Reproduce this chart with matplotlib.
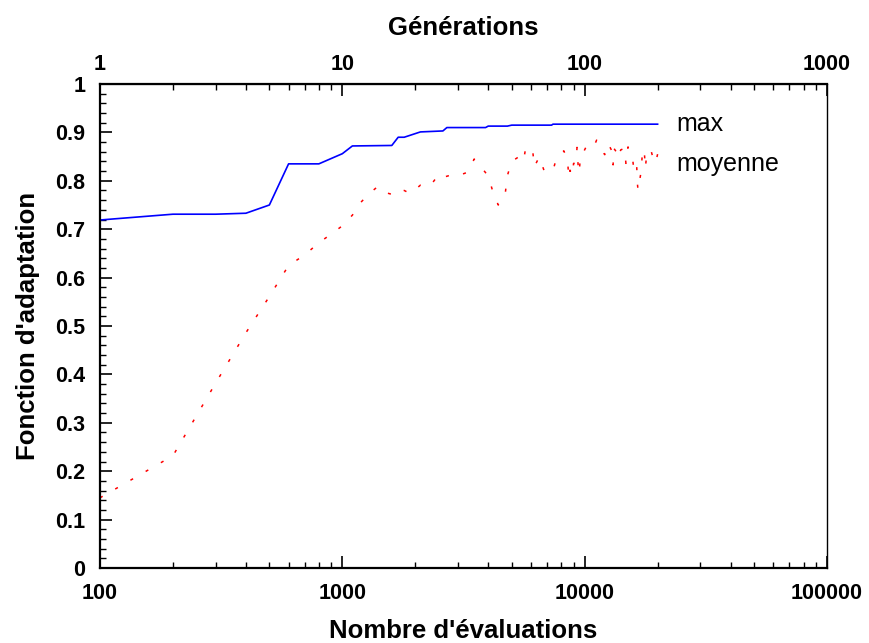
import matplotlib
matplotlib.use('Agg')
from matplotlib import pyplot as plt
from matplotlib.ticker import FixedLocator, MultipleLocator, LogLocator, NullFormatter

plt.rcParams['font.family'] = ['Liberation Sans', 'DejaVu Sans']

# best individual per generation (evaluations = 100 x generation)
max_evals = [100, 200, 300, 400, 500, 600, 800, 1000, 1100, 1600, 1700, 1800,
             2100, 2600, 2700, 3900, 4000, 4800, 5000, 7300, 7400, 20000]
max_fit = [0.719, 0.731, 0.731, 0.733, 0.75, 0.835, 0.835, 0.856, 0.872, 0.873, 0.89, 0.89,
           0.901, 0.903, 0.91, 0.91, 0.913, 0.913, 0.915, 0.915, 0.917, 0.917]

# population mean
mean_evals = [100, 200, 300, 400, 500, 600, 700, 800, 900, 1000, 1100, 1200, 1300, 1400,
              1500, 1600, 1700, 1800, 1900, 2000, 2100, 2300, 2500, 2600, 2900, 3100,
              3300, 3500, 3700, 4000, 4200, 4400, 4700, 4800, 5000, 5400, 5600, 5700,
              5900, 6100, 6200, 6400, 6500, 6800, 7200, 7400, 7600, 8200, 8500, 8600,
              8700, 8900, 9000, 9200, 9300, 9400, 9500, 9600, 9800, 10200, 10500, 10900,
              11200, 11500, 11800, 12100, 12500, 13000, 13100, 13200, 13500, 13700,
              13900, 14100, 14600, 14800, 15100, 15400, 15800, 16000, 16200, 16400,
              16500, 16600, 17100, 17300, 17600, 17800, 18000, 18400, 18600, 18800,
              19100, 19600, 20000]
mean_fit = [0.145, 0.232, 0.382, 0.486, 0.561, 0.625, 0.647, 0.672, 0.69, 0.707, 0.729, 0.757,
            0.775, 0.788, 0.776, 0.772, 0.782, 0.78, 0.774, 0.782, 0.791, 0.789, 0.813, 0.807,
            0.814, 0.813, 0.818, 0.845, 0.831, 0.81, 0.774, 0.75, 0.773, 0.811, 0.84, 0.851,
            0.842, 0.866, 0.87, 0.863, 0.829, 0.843, 0.849, 0.821, 0.818, 0.821, 0.842,
            0.862, 0.843, 0.806, 0.822, 0.811, 0.836, 0.836, 0.869, 0.831, 0.816, 0.852,
            0.855, 0.873, 0.87, 0.87, 0.884, 0.875, 0.862, 0.854, 0.877, 0.86, 0.833,
            0.867, 0.86, 0.847, 0.857, 0.864, 0.867, 0.836, 0.87, 0.853, 0.842, 0.818,
            0.818, 0.829, 0.795, 0.781, 0.819, 0.857, 0.865, 0.826, 0.851, 0.858, 0.864,
            0.862, 0.849, 0.837, 0.855]

y_ticks = [0, 0.1, 0.2, 0.3, 0.4, 0.5, 0.6, 0.7, 0.8, 0.9, 1]
y_labels = ['0', '0.1', '0.2', '0.3', '0.4', '0.5', '0.6', '0.7', '0.8', '0.9', '1']

fig = plt.figure(figsize=(8.69, 6.43), dpi=100)
ax = fig.add_axes([100 / 869, 75 / 643, 727 / 869, 484 / 643])

ax.plot(max_evals, max_fit, color='#0000ff', linewidth=1.2)
ax.plot(mean_evals, mean_fit, color='#ff0000', linewidth=1.1, linestyle=(0, (2, 9.5)))

ax.set_xscale('log')
ax.set_xlim(100, 100000)
ax.set_ylim(0, 1)
ax.set_xticks([100, 1000, 10000, 100000])
ax.set_xticklabels(['100', '1000', '10000', '100000'])
ax.xaxis.set_minor_locator(LogLocator(base=10, subs=range(2, 10)))
ax.xaxis.set_minor_formatter(NullFormatter())
ax.yaxis.set_major_locator(FixedLocator(y_ticks))
ax.set_yticklabels(y_labels)
ax.yaxis.set_minor_locator(MultipleLocator(0.02))

for sp in ax.spines.values():
    sp.set_linewidth(1.6)
ax.spines['right'].set_linewidth(1.0)

ax.tick_params(which='major', direction='in', length=8.5, width=1.2, pad=10.5,
               labelsize=15.5, top=False, right=False)
ax.tick_params(which='minor', direction='in', length=4.5, width=1.0, top=False, right=False)
for lab in ax.get_xticklabels() + ax.get_yticklabels():
    lab.set_fontweight('bold')

top = ax.secondary_xaxis('top', functions=(lambda x: x / 100, lambda g: g * 100))
top.set_xticks([1, 10, 100, 1000])
top.set_xticklabels(['1', '10', '100', '1000'])
top.xaxis.set_minor_locator(LogLocator(base=10, subs=range(2, 10)))
top.xaxis.set_minor_formatter(NullFormatter())
top.tick_params(which='major', direction='in', length=8.5, width=1.2, pad=6.5, labelsize=15.5)
top.tick_params(which='minor', direction='in', length=4.5, width=1.0)
for lab in top.get_xticklabels():
    lab.set_fontweight('bold')
top.set_xlabel('Générations', fontsize=18.5, fontweight='bold', labelpad=14)

ax.set_xlabel("Nombre d'évaluations", fontsize=18.5, fontweight='bold', labelpad=11)
ax.set_ylabel("Fonction d'adaptation", fontsize=18.5, fontweight='bold', labelpad=11)

ax.text(23800, 0.917, 'max', fontsize=18, va='center', ha='left')
ax.text(23800, 0.835, 'moyenne', fontsize=18, va='center', ha='left')

fig.savefig('out.png', dpi=100)
